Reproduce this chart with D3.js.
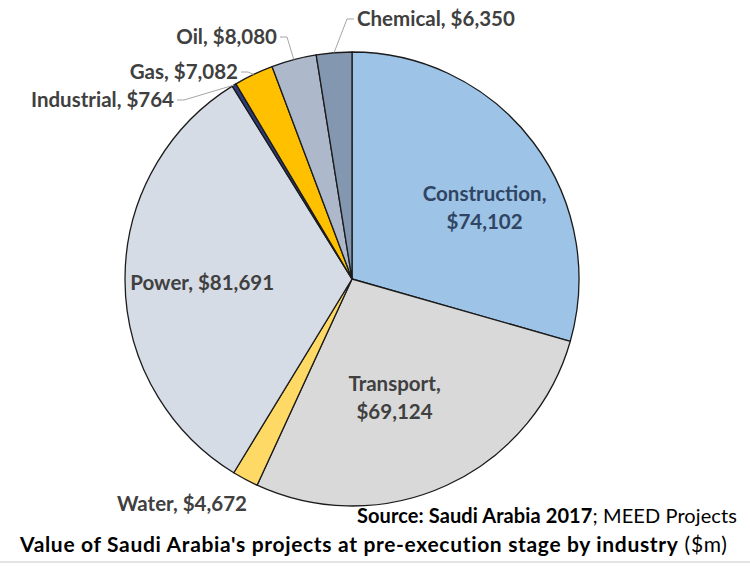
<!DOCTYPE html>
<html>
<head>
<meta charset="utf-8">
<script src="https://cdn.jsdelivr.net/npm/d3@7"></script>
<style>
  html, body { margin: 0; padding: 0; background: #ffffff; }
  svg { display: block; }
  text { font-family: Lato, "Open Sans", "Liberation Sans", sans-serif; }
</style>
</head>
<body>
<svg id="chart" width="750" height="568"></svg>
<script>
// ---- data ----
const categories = ["Construction", "Transport", "Water", "Power", "Industrial", "Gas", "Oil", "Chemical"];
const values     = [74102, 69124, 4672, 81691, 764, 7082, 8080, 6350];
const valueLabels = ["$74,102", "$69,124", "$4,672", "$81,691", "$764", "$7,082", "$8,080", "$6,350"];
const titleBold = "Value of Saudi Arabia's projects at pre-execution stage by industry";
const titleUnit = " ($m)";
const sourceBold = "Source: Saudi Arabia 2017";
const sourceRest = "; MEED Projects";

// ---- styling / layout ----
const colors = ["#9DC3E6", "#D9D9D9", "#FFD966", "#D6DCE5", "#2E3C7A", "#FFC000", "#ADB9CA", "#8497B0"];
const W = 750, H = 568;
const cx = 352, cy = 279, R = 227;

const insideLayout = {
  "Construction": { two: true, nx: 13, ny: 19, color: "#2F4563" },
  "Transport":    { two: true, nx: -20, ny: -17, color: "#404040" },
  "Power":        { two: false, nx: 0, ny: 3, color: "#404040" }
};
const outsideLayout = {
  "Chemical":   { dx: 5,    dy: -260, anchor: "start",  leader: true },
  "Oil":        { dx: -75,  dy: -242, anchor: "end",    leader: true },
  "Gas":        { dx: -114, dy: -207, anchor: "end",    leader: true },
  "Industrial": { dx: -178, dy: -179, anchor: "end",    leader: true },
  "Water":      { dx: -170, dy: 225,  anchor: "middle", leader: false }
};

const data = categories.map((c, i) => ({ name: c, value: values[i], label: valueLabels[i], color: colors[i] }));

const svg = d3.select("#chart");
svg.append("rect").attr("width", W).attr("height", H).attr("fill", "#ffffff");

const pie = d3.pie().sort(null).value(d => d.value).startAngle(0).endAngle(2 * Math.PI);
const arcs = pie(data);
const arc = d3.arc().innerRadius(0).outerRadius(R);
const labelArc = d3.arc().innerRadius(R * 0.66).outerRadius(R * 0.66);
const outerArc = d3.arc().innerRadius(R).outerRadius(R);

const g = svg.append("g").attr("transform", `translate(${cx},${cy})`);

g.selectAll("path.slice")
  .data(arcs)
  .join("path")
  .attr("class", "slice")
  .attr("d", arc)
  .attr("fill", d => d.data.color)
  .attr("stroke", "#1b1b1b")
  .attr("stroke-width", 1.3)
  .attr("stroke-linejoin", "round");

const fs = 20.5;

// inside labels
arcs.filter(d => insideLayout[d.data.name]).forEach(d => {
  const L = insideLayout[d.data.name];
  const [x0, y0] = labelArc.centroid(d);
  const x = x0 + L.nx, y = y0 + L.ny;
  const t = g.append("text")
    .attr("text-anchor", "middle")
    .attr("font-size", fs)
    .attr("font-weight", 700)
    .attr("fill", L.color);
  if (L.two) {
    t.append("tspan").attr("x", x).attr("y", y - 14 + 7).text(d.data.name + ",");
    t.append("tspan").attr("x", x).attr("y", y + 14 + 7).text(d.data.label);
  } else {
    t.attr("x", x).attr("y", y + 7).text(d.data.name + ", " + d.data.label);
  }
});

// outside labels + leader lines
arcs.filter(d => outsideLayout[d.data.name]).forEach(d => {
  const L = outsideLayout[d.data.name];
  const [ox, oy] = outerArc.centroid(d);
  if (L.leader) {
    const side = L.anchor === "start" ? -1 : 1;
    const pts = [[ox, oy], [L.dx + side * 10, L.dy], [L.dx + side * 3, L.dy]];
    g.append("polyline")
      .attr("points", pts.map(p => p.join(",")).join(" "))
      .attr("fill", "none")
      .attr("stroke", "#a6a6a6")
      .attr("stroke-width", 1);
  }
  g.append("text")
    .attr("x", L.dx)
    .attr("y", L.dy + 7)
    .attr("text-anchor", L.anchor)
    .attr("font-size", fs)
    .attr("font-weight", 700)
    .attr("fill", "#404040")
    .text(d.data.name + ", " + d.data.label);
});

// fit a text element to a target width by letter-spacing
function fitWidth(sel, target) {
  const w = sel.node().getComputedTextLength();
  const n = sel.text().length;
  if (n > 1) sel.attr("letter-spacing", ((target - w) / n).toFixed(3));
}

// source
const src = svg.append("text")
  .attr("x", 357).attr("y", 523)
  .attr("font-size", 20)
  .attr("fill", "#000000");
src.append("tspan").attr("font-weight", 700).text(sourceBold);
src.append("tspan").attr("font-weight", 400).text(sourceRest);
fitWidth(src, 380);

// title
const ttl = svg.append("text")
  .attr("x", 20).attr("y", 552)
  .attr("font-size", 21)
  .attr("fill", "#000000");
ttl.append("tspan").attr("font-weight", 700).text(titleBold);
ttl.append("tspan").attr("font-weight", 400).text(titleUnit);
fitWidth(ttl, 708);

// bottom rule
svg.append("rect").attr("x", 0).attr("y", 561).attr("width", W).attr("height", 2).attr("fill", "#e3e3e3");
</script>
</body>
</html>
